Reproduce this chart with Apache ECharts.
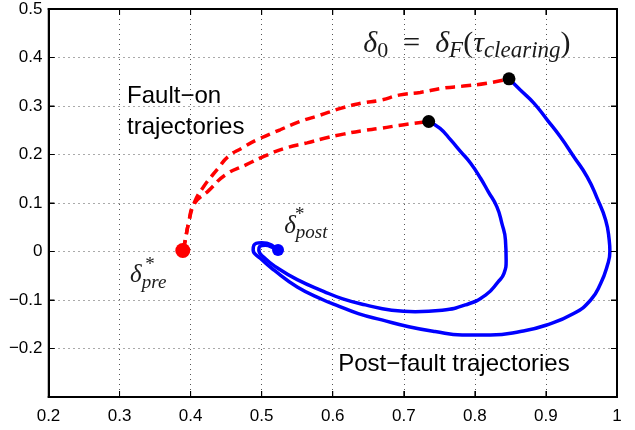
<!DOCTYPE html>
<html><head><meta charset="utf-8">
<script src="https://cdn.jsdelivr.net/npm/echarts@6/dist/echarts.min.js"></script>
<style>html,body{margin:0;padding:0;background:#fff}#c{width:635px;height:430px}</style>
</head><body><div id="c"></div>
<script>
// Fault-on trajectories (red dashed)
const faultUpperX = [0.389, 0.392, 0.397, 0.405, 0.418, 0.439, 0.453, 0.472, 0.493, 0.526, 0.554, 0.582, 0.611, 0.641, 0.667, 0.695, 0.723, 0.756, 0.784, 0.817, 0.848];
const faultUpperY = [0.003, 0.020, 0.058, 0.100, 0.133, 0.172, 0.196, 0.213, 0.230, 0.251, 0.268, 0.281, 0.295, 0.306, 0.312, 0.323, 0.328, 0.337, 0.341, 0.347, 0.356];
const faultLowerX = [0.389, 0.392, 0.397, 0.405, 0.425, 0.449, 0.477, 0.503, 0.533, 0.564, 0.587, 0.615, 0.641, 0.667, 0.698, 0.735];
const faultLowerY = [0.003, 0.020, 0.058, 0.098, 0.125, 0.158, 0.178, 0.196, 0.213, 0.224, 0.233, 0.242, 0.249, 0.254, 0.261, 0.268];
// Post-fault trajectories (blue)
const postInnerX = [0.735, 0.751, 0.766, 0.780, 0.794, 0.808, 0.819, 0.831, 0.838, 0.843, 0.844, 0.841, 0.833, 0.815, 0.787, 0.754, 0.716, 0.683, 0.646, 0.613, 0.587, 0.550, 0.521, 0.503, 0.496, 0.497, 0.505, 0.517, 0.521];
const postInnerY = [0.268, 0.254, 0.230, 0.206, 0.182, 0.151, 0.123, 0.092, 0.058, 0.024, -0.018, -0.045, -0.062, -0.090, -0.110, -0.121, -0.124, -0.121, -0.110, -0.097, -0.082, -0.058, -0.033, -0.012, 0.003, 0.010, 0.013, 0.007, 0.003];
const postOuterX = [0.848, 0.864, 0.883, 0.902, 0.920, 0.939, 0.958, 0.972, 0.984, 0.989, 0.990, 0.986, 0.977, 0.963, 0.939, 0.900, 0.864, 0.822, 0.782, 0.744, 0.707, 0.669, 0.636, 0.604, 0.587, 0.550, 0.517, 0.498, 0.488, 0.489, 0.500, 0.514, 0.521];
const postOuterY = [0.356, 0.333, 0.306, 0.271, 0.237, 0.196, 0.154, 0.110, 0.065, 0.024, 0.000, -0.031, -0.066, -0.100, -0.128, -0.152, -0.165, -0.172, -0.172, -0.165, -0.155, -0.141, -0.128, -0.110, -0.100, -0.073, -0.038, -0.014, 0.003, 0.013, 0.018, 0.013, 0.003];
// Equilibria and clearing points
const preEq = [0.389, 0.002];
const postEq = [0.523, 0.003];
const clearingX = [0.735, 0.848];
const clearingY = [0.268, 0.356];
// Axis ranges / ticks
const xTicks = [0.2, 0.3, 0.4, 0.5, 0.6, 0.7, 0.8, 0.9, 1.0];
const yTicks = [-0.3, -0.2, -0.1, 0, 0.1, 0.2, 0.3, 0.4, 0.5];
// Annotations: [x, y, key]
const annX = [0.643, 0.3106, 0.6077, 0.3148, 0.336, 0.5317, 0.547];
const annY = [0.428, 0.2876, -0.232, -0.05, -0.028, 0.0526, 0.075];
const annKey = ['d0', 'faultOn', 'postFault', 'pre', 'star', 'post', 'star'];

const zip = (a, b) => a.map((v, i) => [v, b[i]]);
const SANS = 'Liberation Sans';
const SERIF = 'Liberation Serif';
const INK = '#1a1a1a';
const xMin = xTicks[0], xMax = xTicks[xTicks.length - 1];
const yMin = yTicks[0], yMax = yTicks[yTicks.length - 1];

const texts = {
  d0: '{d|δ}{s0|0}{t|  =  }{d|δ}{s|F}{t|(}{d|τ}{s|clearing}{t|)}',
  faultOn: '{h|Fault−on}\n{h|trajectories}',
  postFault: '{h|Post−fault trajectories}',
  pre: '{d2|δ}{s2|pre}',
  post: '{d2|δ}{s2|post}',
  star: '{st|*}'
};
const rich = {
  d: {fontFamily: SERIF, fontStyle: 'italic', fontSize: 30, color: INK},
  t: {fontFamily: SERIF, fontSize: 30, color: INK},
  s: {fontFamily: SERIF, fontStyle: 'italic', fontSize: 23, color: INK, padding: [15, 0, 0, 0]},
  s0: {fontFamily: SERIF, fontSize: 22, color: INK, padding: [15, 0, 0, 0]},
  h: {fontFamily: SANS, fontSize: 24, color: '#000', lineHeight: 31},
  d2: {fontFamily: SERIF, fontStyle: 'italic', fontSize: 25, color: INK},
  s2: {fontFamily: SERIF, fontStyle: 'italic', fontSize: 19, color: INK, padding: [14, 0, 0, 0]},
  st: {fontFamily: SERIF, fontSize: 19, color: INK}
};

const fmt = v => String(Math.round(v * 10) / 10).replace('-', '−');
const mkLine = () => ({show: true, onZero: false, lineStyle: {color: 'black', width: 2}});
const mkTick = () => ({show: true, inside: true, length: 6, lineStyle: {color: 'black', width: 1}});
const mkGrid = () => ({show: true, showMinLine: false, showMaxLine: false, lineStyle: {color: '#555', width: 1, type: [1, 4]}});

const chart = echarts.init(document.getElementById('c'));
chart.setOption({
  animation: false,
  grid: {left: 48.5, right: 18, top: 9, bottom: 33},
  xAxis: [{
    type: 'value', min: xMin, max: xMax, interval: 0.1,
    axisLine: mkLine(), axisTick: mkTick(),
    axisLabel: {color: '#000', fontFamily: SANS, fontSize: 17, margin: 11, formatter: fmt},
    splitLine: mkGrid()
  }, {
    type: 'value', min: xMin, max: xMax, interval: 0.1, position: 'top',
    axisLine: mkLine(), axisTick: mkTick(),
    axisLabel: {show: false}, splitLine: {show: false}
  }],
  yAxis: [{
    type: 'value', min: yMin, max: yMax, interval: 0.1,
    axisLine: mkLine(), axisTick: mkTick(),
    axisLabel: {color: '#000', fontFamily: SANS, fontSize: 17, margin: 6, showMinLabel: false, formatter: fmt},
    splitLine: mkGrid()
  }, {
    type: 'value', min: yMin, max: yMax, interval: 0.1, position: 'right',
    axisLine: mkLine(), axisTick: mkTick(),
    axisLabel: {show: false}, splitLine: {show: false}
  }],
  series: [
    {type: 'line', xAxisIndex: 1, yAxisIndex: 1, data: []},
    {type: 'line', data: zip(faultUpperX, faultUpperY), showSymbol: false, smooth: 0.5,
     lineStyle: {color: '#ff0000', width: 3.5, type: [10, 6]}},
    {type: 'line', data: zip(faultLowerX, faultLowerY), showSymbol: false, smooth: 0.5,
     lineStyle: {color: '#ff0000', width: 3.5, type: [10, 6]}},
    {type: 'line', data: zip(postInnerX, postInnerY), showSymbol: false, smooth: 0.5,
     lineStyle: {color: '#0000ff', width: 3.5}},
    {type: 'line', data: zip(postOuterX, postOuterY), showSymbol: false, smooth: 0.5,
     lineStyle: {color: '#0000ff', width: 3.5}},
    {type: 'scatter', data: [preEq], symbol: 'circle', symbolSize: 15, itemStyle: {color: '#ff0000', opacity: 1}, z: 5},
    {type: 'scatter', data: [postEq], symbol: 'circle', symbolSize: 12, itemStyle: {color: '#0000ff', opacity: 1}, z: 5},
    {type: 'scatter', data: zip(clearingX, clearingY), symbol: 'circle', symbolSize: 13, itemStyle: {color: '#000', opacity: 1}, z: 5},
    {type: 'scatter', data: annX.map((x, i) => [x, annY[i], annKey[i]]), symbolSize: 0, silent: true, z: 6,
     itemStyle: {opacity: 1},
     label: {show: true, opacity: 1, position: 'right', distance: 0, formatter: p => texts[p.data[2]], rich: rich}}
  ]
});

// Plot box and inward ticks on all four sides, placed through the chart's own scales
const pLB = chart.convertToPixel({gridIndex: 0}, [xMin, yMin]);
const pRT = chart.convertToPixel({gridIndex: 0}, [xMax, yMax]);
const boxStyle = {stroke: '#000', lineWidth: 1.5, fill: null};
const tickStyle = {stroke: '#000', lineWidth: 1};
const TL = 6;
const g = [{
  type: 'rect', silent: true, z: 100,
  shape: {x: pLB[0], y: pRT[1], width: pRT[0] - pLB[0], height: pLB[1] - pRT[1]},
  style: boxStyle
}];
xTicks.forEach(v => {
  const px = chart.convertToPixel({xAxisIndex: 0}, v);
  g.push({type: 'line', silent: true, z: 100, shape: {x1: px, y1: pLB[1], x2: px, y2: pLB[1] - TL}, style: tickStyle});
  g.push({type: 'line', silent: true, z: 100, shape: {x1: px, y1: pRT[1], x2: px, y2: pRT[1] + TL}, style: tickStyle});
});
yTicks.forEach(v => {
  const py = chart.convertToPixel({yAxisIndex: 0}, v);
  g.push({type: 'line', silent: true, z: 100, shape: {x1: pLB[0], y1: py, x2: pLB[0] + TL, y2: py}, style: tickStyle});
  g.push({type: 'line', silent: true, z: 100, shape: {x1: pRT[0], y1: py, x2: pRT[0] - TL, y2: py}, style: tickStyle});
});
chart.setOption({graphic: g});
</script></body></html>
